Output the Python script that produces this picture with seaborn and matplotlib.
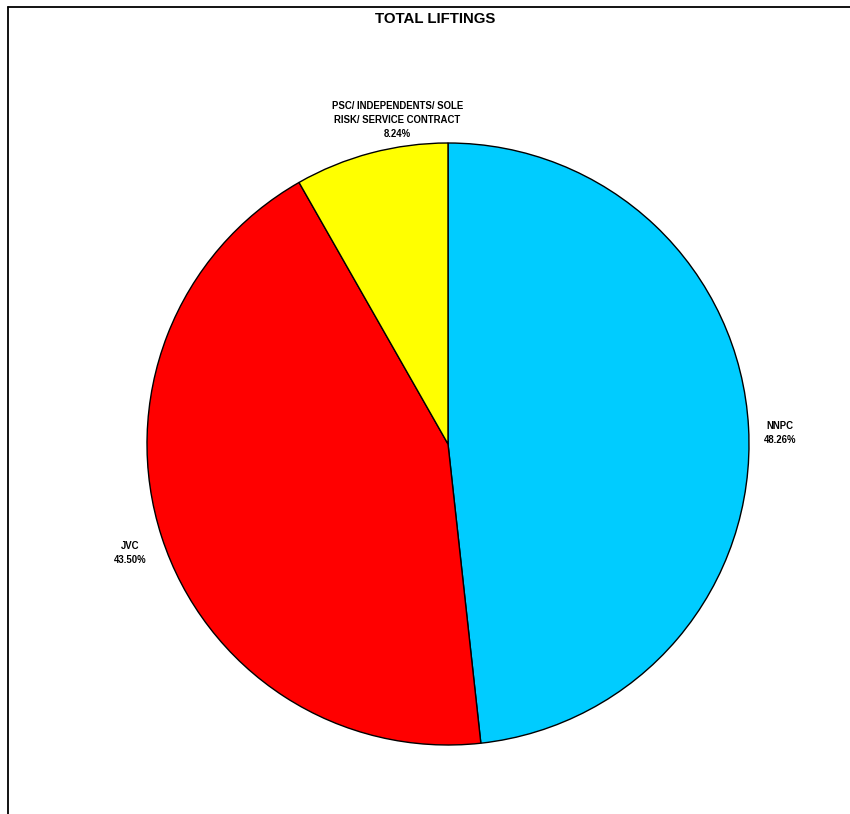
import matplotlib
matplotlib.use("Agg")
import matplotlib.pyplot as plt
from matplotlib.lines import Line2D
import seaborn as sns

# Chart data
categories = ["NNPC", "JVC", "PSC/ INDEPENDENTS/ SOLE\nRISK/ SERVICE CONTRACT"]
shares = [48.26, 43.50, 8.24]
colors = ["#00CCFF", "#FF0000", "#FFFF00"]

sns.set_theme(style="white")
plt.rcParams["font.family"] = ["Liberation Sans", "DejaVu Sans"]
plt.rcParams["text.color"] = "black"

fig = plt.figure(figsize=(8.5, 8.14), dpi=100)

# Frame lines (left and top only, as in the cropped reference)
fig.add_artist(Line2D([8 / 850, 8 / 850], [0, 1 - 7 / 814], color="black", lw=1.3))
fig.add_artist(Line2D([8 / 850, 1], [1 - 7 / 814, 1 - 7 / 814], color="black", lw=1.3))

fig.text(435 / 850, 1 - 19 / 814, "TOTAL LIFTINGS", ha="center", va="center",
         fontsize=10.8, fontweight="bold", color="black")

ax = fig.add_axes([147 / 850, 69 / 814, 602 / 850, 602 / 814])
ax.pie(shares, colors=colors, startangle=90, counterclock=False,
       wedgeprops=dict(edgecolor="black", linewidth=1.0))
ax.set_xlim(-1, 1)
ax.set_ylim(-1, 1)
ax.axis("off")

# Label positions in data units
label_pos = [(1.103, 0.037), (-1.056, -0.362), (-0.169, 1.075)]
for name, val, (x, y) in zip(categories, shares, label_pos):
    ax.text(x, y, f"{name}\n{val:.2f}%", ha="center", va="center", color="black",
            fontsize=6.9, fontweight="bold", linespacing=1.5, clip_on=False)

fig.savefig("out.png", dpi=100)
